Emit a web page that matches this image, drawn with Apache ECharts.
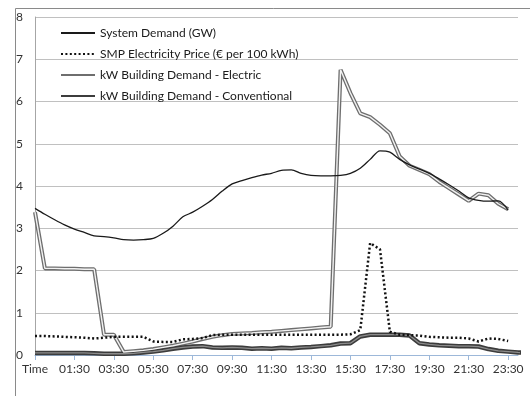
<!DOCTYPE html>
<html><head><meta charset="utf-8">
<script src="https://cdn.jsdelivr.net/npm/echarts@6/dist/echarts.min.js"></script>
<style>html,body{margin:0;padding:0;background:#fff}#c{width:530px;height:396px}</style>
</head><body><div id="c"></div>
<script>
const categories = ["Time","00:00","00:30","01:00","01:30","02:00","02:30","03:00","03:30","04:00","04:30","05:00","05:30","06:00","06:30","07:00","07:30","08:00","08:30","09:00","09:30","10:00","10:30","11:00","11:30","12:00","12:30","13:00","13:30","14:00","14:30","15:00","15:30","16:00","16:30","17:00","17:30","18:00","18:30","19:00","19:30","20:00","20:30","21:00","21:30","22:00","22:30","23:00","23:30","00:00"];
const systemDemand = [3.47,3.33,3.2,3.08,2.98,2.9,2.82,2.8,2.77,2.73,2.72,2.73,2.76,2.88,3.05,3.27,3.38,3.52,3.68,3.88,4.05,4.13,4.2,4.26,4.3,4.37,4.38,4.3,4.25,4.24,4.24,4.25,4.3,4.42,4.63,4.83,4.8,4.63,4.5,4.4,4.3,4.17,4.03,3.88,3.72,3.66,3.64,3.65,3.43];
const smpPrice = [0.45,0.45,0.44,0.43,0.42,0.41,0.39,0.41,0.43,0.43,0.43,0.43,0.32,0.31,0.31,0.37,0.38,0.4,0.47,0.48,0.48,0.48,0.48,0.48,0.48,0.48,0.48,0.48,0.48,0.48,0.48,0.48,0.49,0.59,2.65,2.5,0.55,0.48,0.47,0.46,0.43,0.42,0.41,0.41,0.39,0.32,0.39,0.38,0.33];
const electricDemand = [3.38,2.05,2.05,2.04,2.04,2.03,2.03,0.48,0.48,0.07,0.09,0.11,0.14,0.18,0.22,0.27,0.32,0.38,0.43,0.47,0.5,0.51,0.52,0.54,0.55,0.57,0.59,0.61,0.63,0.65,0.67,6.75,6.2,5.72,5.63,5.45,5.25,4.7,4.48,4.38,4.28,4.1,3.95,3.8,3.65,3.82,3.78,3.58,3.45];
const conventionalDemand = [0.05,0.05,0.05,0.05,0.05,0.05,0.04,0.03,0.03,0.03,0.04,0.06,0.08,0.11,0.15,0.18,0.2,0.21,0.18,0.17,0.18,0.17,0.15,0.16,0.15,0.17,0.16,0.18,0.19,0.21,0.23,0.27,0.28,0.44,0.48,0.48,0.48,0.48,0.46,0.28,0.25,0.23,0.22,0.21,0.21,0.2,0.14,0.1,0.08,0.06,0.05];
const yTicks = [0,1,2,3,4,5,6,7,8];

const FONT = 'Lato';
const chart = echarts.init(document.getElementById('c'), null, {renderer:'canvas'});
const show4 = (i) => i % 4 === 0;
chart.setOption({
  animation:false,
  textStyle:{fontFamily:FONT},
  graphic:[{type:'rect',shape:{x:15.5,y:8.5,width:600,height:600},style:{fill:'none',stroke:'#8a8a8a',lineWidth:1},silent:true,z:-1}],
  grid:{left:35,top:17,right:12,bottom:41,containLabel:false},
  legend:{
    orient:'vertical',left:55,top:22,itemWidth:34,itemHeight:14,itemGap:9,
    itemStyle:{opacity:0},
    textStyle:{fontFamily:FONT,fontSize:12,color:'#1a1a1a'},
    data:['System Demand (GW)','SMP Electricity Price (€ per 100 kWh)','kW Building Demand - Electric','kW Building Demand - Conventional']
  },
  xAxis:{
    type:'category',data:categories,boundaryGap:false,
    axisLine:{lineStyle:{color:'#9db8d9',width:1}},
    axisTick:{show:true,interval:(i)=>show4(i),length:5,lineStyle:{color:'#9db8d9'}},
    axisLabel:{interval:(i)=>show4(i),fontFamily:FONT,fontSize:12,color:'#333',margin:8},
    splitLine:{show:false}
  },
  yAxis:{
    type:'value',min:0,max:8,interval:1,
    axisLine:{show:true,lineStyle:{color:'#a6a6a6'}},
    axisTick:{show:false},
    axisLabel:{fontFamily:FONT,fontSize:12,color:'#333',margin:12,formatter:(v)=>yTicks.includes(v)?String(v):''},
    splitLine:{lineStyle:{color:'#c0c0c0',width:1}}
  },
  series:[
    {name:'System Demand (GW)',type:'line',data:systemDemand,symbol:'none',smooth:0.3,
     lineStyle:{color:'#1a1a1a',width:1.3},itemStyle:{color:'#1a1a1a'},z:5},
    {name:'SMP Electricity Price (€ per 100 kWh)',type:'line',data:smpPrice,symbol:'none',
     lineStyle:{color:'#111',width:2.5,type:[2,2.4]},itemStyle:{color:'#111'},z:6},
    {name:'kW Building Demand - Electric',type:'line',data:electricDemand,symbol:'none',
     lineStyle:{color:'#6e6e6e',width:4},itemStyle:{color:'#6e6e6e'},z:3},
    {name:'electric-inner',type:'line',data:electricDemand,symbol:'none',
     lineStyle:{color:'#f2f2f2',width:1.4},itemStyle:{color:'#f2f2f2'},z:4},
    {name:'kW Building Demand - Conventional',type:'line',data:conventionalDemand,symbol:'none',
     lineStyle:{color:'#3c3c3c',width:4.5},itemStyle:{color:'#3c3c3c'},z:3},
    {name:'conventional-inner',type:'line',data:conventionalDemand,symbol:'none',
     lineStyle:{color:'#8c8c8c',width:1.3},itemStyle:{color:'#8c8c8c'},z:4}
  ]
});
</script></body></html>
